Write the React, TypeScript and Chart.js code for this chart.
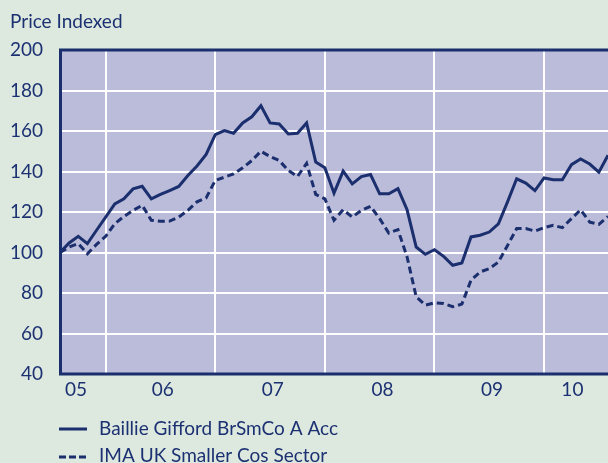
import React, { useEffect, useRef } from "react";
import { Chart, registerables } from "chart.js";

Chart.register(...registerables);

// Monthly index values, Aug 2005 .. Aug 2010 (index 0..60)
const fundValues = [
  100, 104.7, 108, 104.4, 111, 117.5, 124, 126.5, 131.4, 132.7,
  126.5, 128.7, 130.6, 132.6, 138, 142.7, 148.4, 158.2, 160.2, 158.9,
  164, 167, 172.5, 164, 163.5, 158.5, 158.9, 164, 144.7, 141.8,
  129.3, 140.2, 133.9, 137.5, 138.5, 129, 129, 131.5, 121.1, 102.7,
  99.1, 101.4, 98.1, 93.7, 94.8, 107.7, 108.5, 110.1, 114.2, 125,
  136.4, 134.3, 130.6, 136.8, 135.9, 135.9, 143.4, 146.2, 143.7, 139.7,
  148,
];
const sectorValues = [
  100, 102.7, 104.4, 99.4, 104, 108, 114.2, 117.8, 120.8, 123.3,
  115.9, 115.4, 115.5, 117.5, 120.8, 125, 127, 135.6, 137.2, 138.8,
  141.8, 145.4, 150, 147.4, 145.4, 140.5, 137.5, 144, 128.7, 126.5,
  115.9, 121.1, 117.5, 120.8, 122.8, 116.7, 109.6, 111.3, 97.8, 78.1,
  74, 75.1, 74.8, 73.2, 74.5, 86.3, 90.4, 92, 95.3, 103.5,
  111.8, 111.8, 110.6, 112.3, 113.4, 112.3, 116.7, 121.1, 115, 113.9,
  117.8,
];
const seriesNames = ["Baillie Gifford BrSmCo A Acc", "IMA UK Smaller Cos Sector"];
const yearLabels = ["05", "06", "07", "08", "09", "10"];
const yearLabelPositions = [1.75, 11.25, 23.3, 35.3, 47.3, 56.1];
const yearBoundaries = [5, 17, 29, 41, 53];
const yMin = 40;
const yMax = 200;
const yStep = 20;
const titleText = "Price Indexed";

const BG = "#dde9df";
const PLOT = "#babcd9";
const NAVY = "#1b2e6e";
const TEXT = "#1c3172";
const FONT = "Lato";

export default function App() {
  const ref = useRef<HTMLCanvasElement | null>(null);

  useEffect(() => {
    if (!ref.current) return;
    const toPts = (arr: number[]) => arr.map((v, i) => ({ x: i, y: v }));

    const decor = {
      id: "decor",
      beforeDraw(chart: any) {
        const { ctx, chartArea: a } = chart;
        ctx.save();
        ctx.fillStyle = BG;
        ctx.fillRect(0, 0, chart.width, chart.height);
        ctx.fillStyle = PLOT;
        ctx.fillRect(a.left, a.top, a.right - a.left, a.bottom - a.top);
        ctx.restore();
      },
      beforeDatasetsDraw(chart: any) {
        const { ctx, chartArea: a } = chart;
        ctx.save();
        ctx.strokeStyle = NAVY;
        ctx.lineWidth = 3;
        ctx.beginPath();
        ctx.moveTo(chart.width + 2, a.top);
        ctx.lineTo(a.left + 0.5, a.top);
        ctx.lineTo(a.left + 0.5, a.bottom);
        ctx.lineTo(chart.width + 2, a.bottom);
        ctx.stroke();
        ctx.restore();
      },
      afterDraw(chart: any) {
        const { ctx } = chart;
        ctx.save();
        ctx.fillStyle = TEXT;
        ctx.textBaseline = "alphabetic";
        ctx.textAlign = "left";
        ctx.font = `19px ${FONT}`;
        ctx.fillText(titleText, 10, 27.5);
        // legend
        const rows = [
          { y: 429, dash: [] as number[], text: seriesNames[0], base: 435 },
          { y: 457, dash: [7, 3], text: seriesNames[1], base: 462 },
        ];
        rows.forEach((r) => {
          ctx.strokeStyle = NAVY;
          ctx.lineWidth = 3;
          ctx.setLineDash(r.dash);
          ctx.beginPath();
          ctx.moveTo(59, r.y);
          ctx.lineTo(87, r.y);
          ctx.stroke();
          ctx.setLineDash([]);
          ctx.fillText(r.text, 99, r.base);
        });
        ctx.restore();
      },
    };

    const chart = new Chart(ref.current, {
      type: "line",
      data: {
        datasets: [
          {
            label: seriesNames[0],
            data: toPts(fundValues),
            borderColor: NAVY,
            borderWidth: 3,
            pointRadius: 0,
            tension: 0,
            xAxisID: "x",
            yAxisID: "y",
          },
          {
            label: seriesNames[1],
            data: toPts(sectorValues),
            borderColor: NAVY,
            borderWidth: 3,
            borderDash: [7, 4],
            pointRadius: 0,
            tension: 0,
            xAxisID: "x",
            yAxisID: "y",
          },
        ],
      },
      options: {
        responsive: false,
        animation: false,
        layout: { padding: { top: 50, right: 0, bottom: 0, left: 0 } },
        plugins: { legend: { display: false }, tooltip: { enabled: false }, title: { display: false } },
        scales: {
          x: {
            type: "linear",
            position: "bottom",
            min: 0,
            max: fundValues.length - 1,
            afterBuildTicks: (s: any) => {
              s.ticks = yearBoundaries.map((v) => ({ value: v }));
            },
            afterFit: (s: any) => {
              s.height = 0;
            },
            ticks: { display: false },
            grid: { color: "#ffffff", lineWidth: 2, drawTicks: false },
            border: { display: false },
          },
          x2: {
            type: "linear",
            position: "bottom",
            min: 0,
            max: fundValues.length - 1,
            afterBuildTicks: (s: any) => {
              s.ticks = yearLabelPositions.map((v) => ({ value: v }));
            },
            afterFit: (s: any) => {
              s.height = 89;
            },
            ticks: {
              autoSkip: false,
              maxRotation: 0,
              padding: 4,
              color: TEXT,
              font: { family: FONT, size: 19 },
              callback: (_v: any, i: number) => yearLabels[i],
            },
            grid: { display: false, drawTicks: false },
            border: { display: false },
          },
          y: {
            min: yMin,
            max: yMax,
            afterFit: (s: any) => {
              s.width = 60;
            },
            ticks: {
              stepSize: yStep,
              padding: 17,
              color: TEXT,
              font: { family: FONT, size: 19 },
            },
            grid: {
              color: (c: any) => (c.tick && (c.tick.value === yMin || c.tick.value === yMax) ? "rgba(0,0,0,0)" : "#ffffff"),
              lineWidth: 2,
              drawTicks: false,
            },
            border: { display: false },
          },
        },
      },
      plugins: [decor],
    } as any);
    return () => chart.destroy();
  }, []);

  return (
    <div style={{ position: "fixed", left: 0, top: 0, width: 608, height: 463 }}>
      <canvas ref={ref} width={608} height={463} style={{ display: "block" }} />
    </div>
  );
}
